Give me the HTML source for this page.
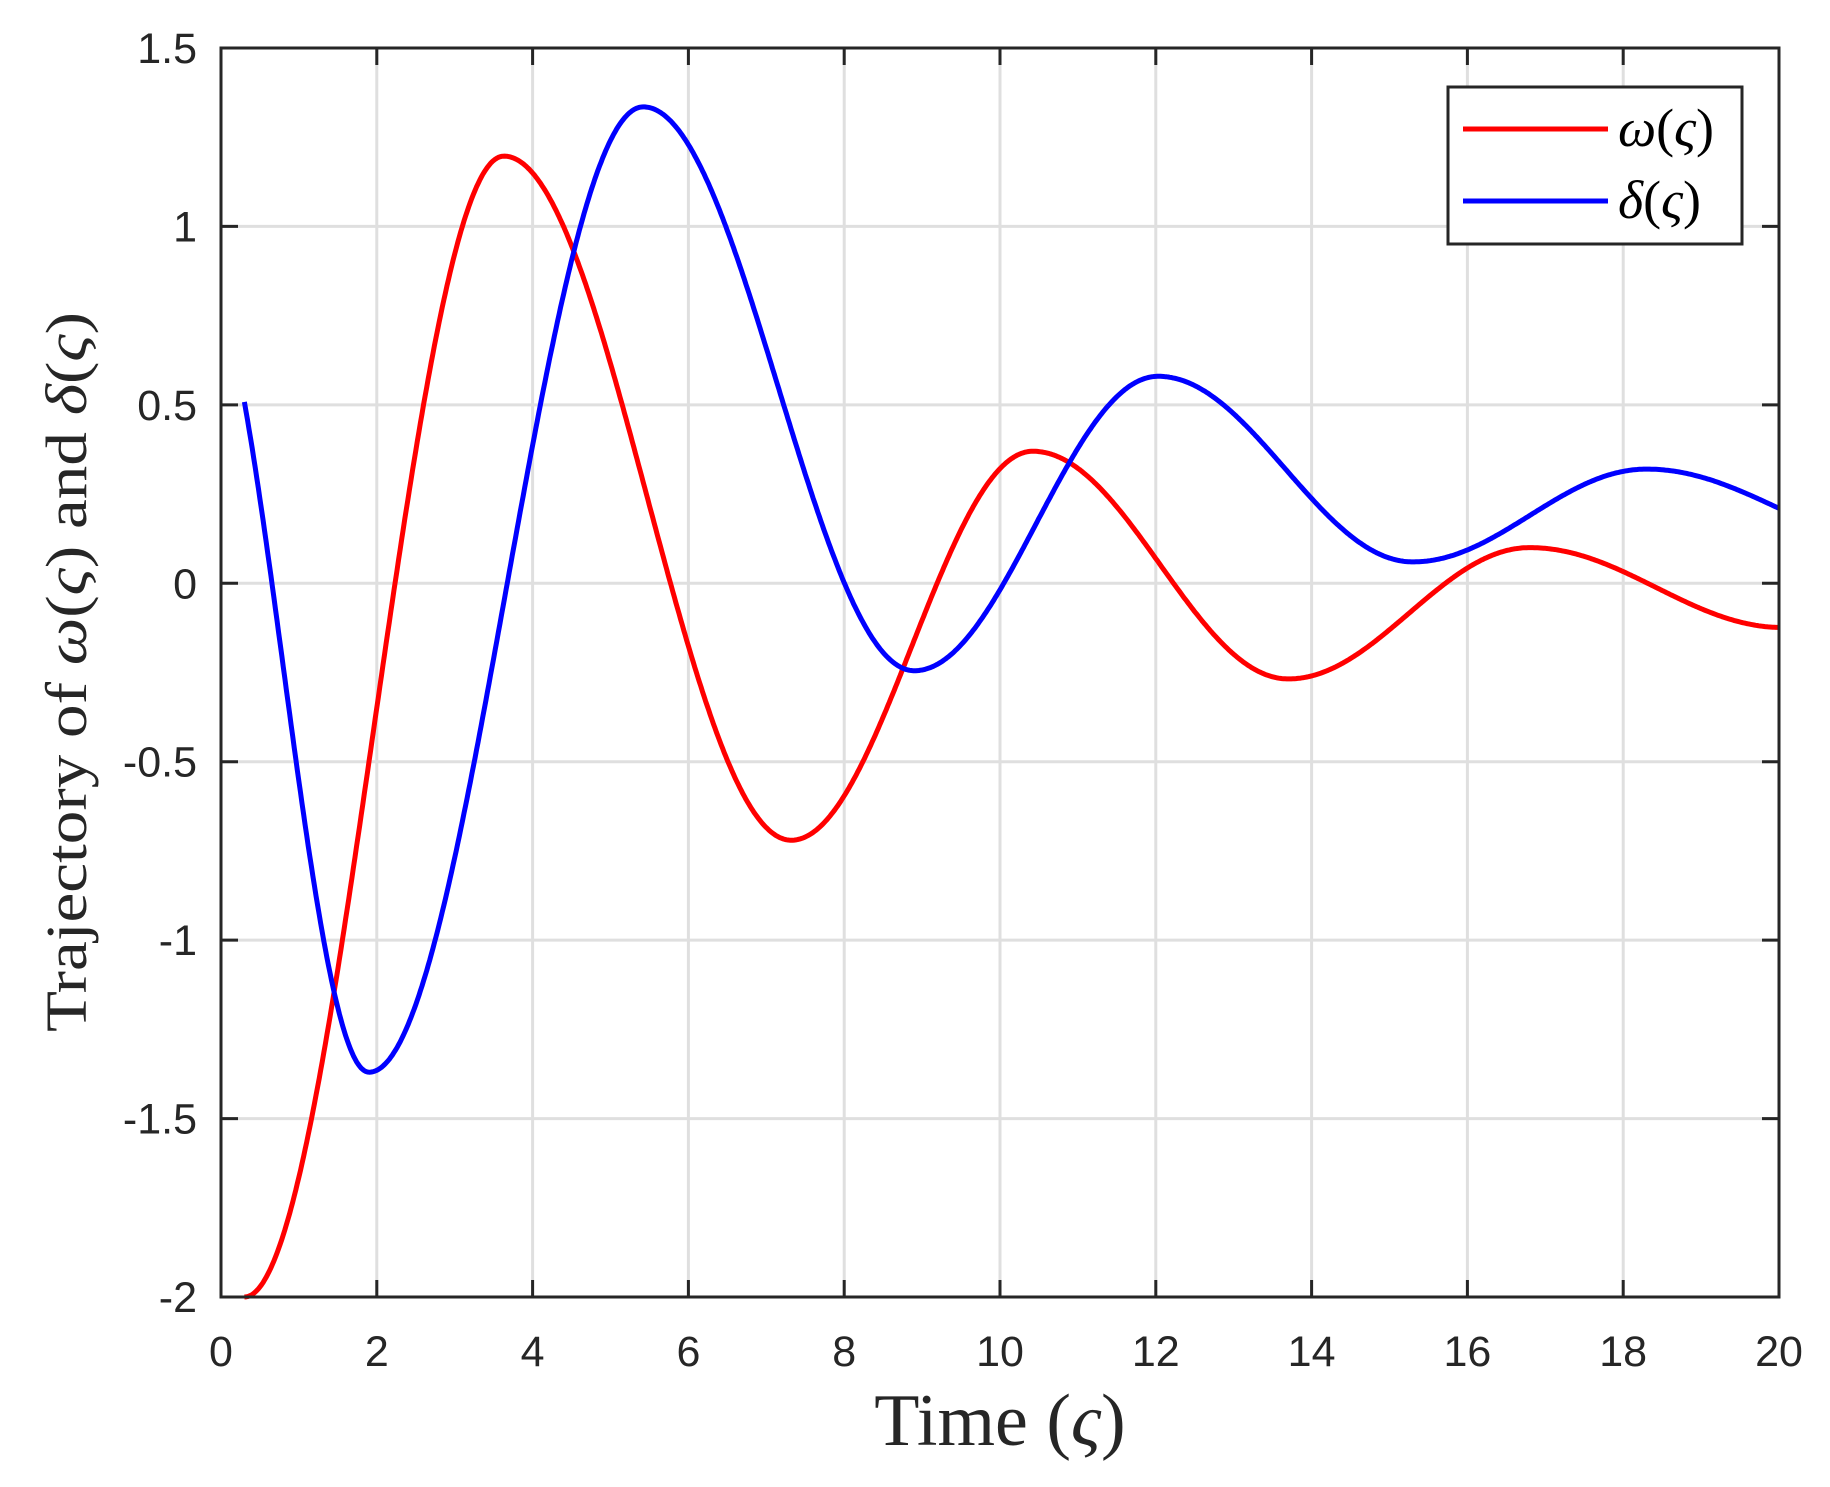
<!DOCTYPE html>
<html><head><meta charset="utf-8"><style>
html,body{margin:0;padding:0;background:#fff;}
svg{display:block;}
</style></head><body>
<svg id="s" width="1830" height="1487" viewBox="0 0 1830 1487" xmlns="http://www.w3.org/2000/svg">
<rect width="1830" height="1487" fill="#fff"/>
<g id="grid" stroke="#dfdfdf" stroke-width="3"></g>
<path id="red" fill="none" stroke="#ff0000" stroke-width="5" stroke-linejoin="round"/>
<path id="blue" fill="none" stroke="#0000ff" stroke-width="5" stroke-linejoin="round"/>
<g id="ticks" stroke="#262626" stroke-width="3"></g>
<rect x="221" y="48" width="1558" height="1249" fill="none" stroke="#262626" stroke-width="3"/>
<g id="labels" font-family="Liberation Sans, Arial, sans-serif" font-size="43" fill="#262626"></g>
<text x="1000" y="1445" text-anchor="middle" font-family="Liberation Serif, serif" font-size="74" fill="#262626">Time (<tspan font-style="italic">ς</tspan>)</text>
<text transform="translate(86,672) rotate(-90)" text-anchor="middle" font-family="Liberation Serif, serif" font-size="58" fill="#262626" textLength="720" lengthAdjust="spacingAndGlyphs">Trajectory of <tspan font-style="italic">ω</tspan>(<tspan font-style="italic">ς</tspan>) and <tspan font-style="italic">δ</tspan>(<tspan font-style="italic">ς</tspan>)</text>
<rect x="1448" y="87" width="294" height="157" fill="#fff" stroke="#262626" stroke-width="3"/>
<line x1="1463" y1="129" x2="1608" y2="129" stroke="#ff0000" stroke-width="5"/>
<line x1="1463" y1="201" x2="1608" y2="201" stroke="#0000ff" stroke-width="5"/>
<text x="1618" y="146" font-family="Liberation Serif, serif" font-size="54" fill="#000"><tspan font-style="italic">ω</tspan>(<tspan font-style="italic">ς</tspan>)</text>
<text x="1618" y="218" font-family="Liberation Serif, serif" font-size="54" fill="#000"><tspan font-style="italic">δ</tspan>(<tspan font-style="italic">ς</tspan>)</text>
</svg>
<script>
var X=function(t){return 221+t*77.9;};
var Y=function(v){return 48+(1.5-v)*356.86;};
var NS="http://www.w3.org/2000/svg";
function el(p,n,a,txt){var e=document.createElementNS(NS,n);for(var k in a)e.setAttribute(k,a[k]);if(txt!==undefined)e.textContent=txt;document.getElementById(p).appendChild(e);}
for(var t=0;t<=20;t+=2){var x=X(t);
 if(t>0&&t<20)el('grid','line',{x1:x,y1:48,x2:x,y2:1297});
 el('ticks','line',{x1:x,y1:1297,x2:x,y2:1280});el('ticks','line',{x1:x,y1:48,x2:x,y2:65});
 el('labels','text',{x:x,y:1366,'text-anchor':'middle'},String(t));}
var yl=[1.5,1,0.5,0,-0.5,-1,-1.5,-2];
yl.forEach(function(v){var y=Y(v);
 if(v<1.5&&v>-2)el('grid','line',{x1:221,y1:y,x2:1779,y2:y});
 el('ticks','line',{x1:221,y1:y,x2:238,y2:y});el('ticks','line',{x1:1779,y1:y,x2:1762,y2:y});
 el('labels','text',{x:197,y:y+15,'text-anchor':'end'},String(v));});
function curve(pts,t0,t1){var d='';for(var t=t0;t<=t1+1e-9;t+=0.02){var i=0;while(i<pts.length-2&&t>pts[i+1][0])i++;
 var a=pts[i],b=pts[i+1];var f=(t-a[0])/(b[0]-a[0]);var v=a[1]+(b[1]-a[1])*(1-Math.cos(Math.PI*f))/2;
 d+=(d?'L':'M')+X(t).toFixed(1)+' '+Y(v).toFixed(1);}return d;}
var red=[[0.3,-2],[3.63,1.197],[7.32,-0.72],[10.42,0.37],[13.7,-0.268],[16.8,0.1],[20.05,-0.124]];
var blue=[[-0.3,0.9],[1.9,-1.37],[5.42,1.335],[8.9,-0.245],[12.03,0.58],[15.3,0.06],[18.3,0.32],[21.7,0.1]];
document.getElementById('red').setAttribute('d',curve(red,0.3,20));
document.getElementById('blue').setAttribute('d',curve(blue,0.3,20));
</script>
</body></html>
